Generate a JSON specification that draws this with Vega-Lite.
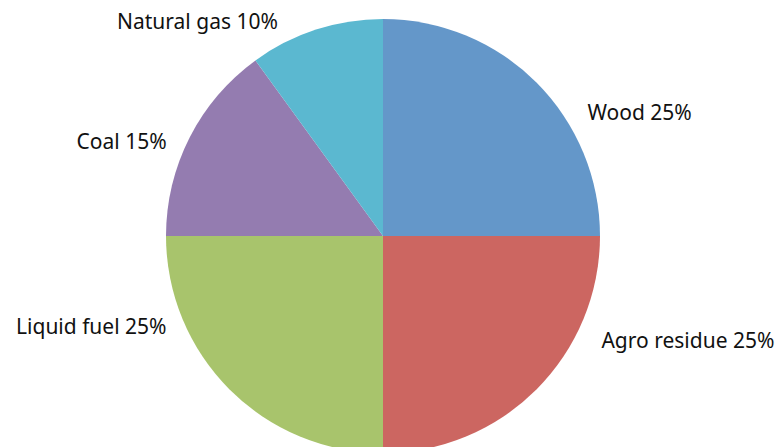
{
  "$schema": "https://vega.github.io/schema/vega-lite/v6.json",
  "width": 766,
  "height": 472,
  "autosize": {"type": "none"},
  "padding": {"left": 0, "top": 0, "right": 13, "bottom": 0},
  "background": "white",
  "config": {"view": {"stroke": null}},
  "data": {
    "values": [
      {"category": "Wood", "value": 25, "order": 1},
      {"category": "Agro residue", "value": 25, "order": 2},
      {"category": "Liquid fuel", "value": 25, "order": 3},
      {"category": "Coal", "value": 15, "order": 4},
      {"category": "Natural gas", "value": 10, "order": 5}
    ]
  },
  "transform": [
    {"calculate": "datum.category + ' ' + datum.value + '%'", "as": "label"}
  ],
  "encoding": {
    "theta": {"field": "value", "type": "quantitative", "stack": true},
    "order": {"field": "order", "type": "quantitative"}
  },
  "layer": [
    {
      "mark": {"type": "arc", "radius": 217},
      "encoding": {
        "color": {
          "field": "category",
          "type": "nominal",
          "scale": {
            "domain": ["Wood", "Agro residue", "Liquid fuel", "Coal", "Natural gas"],
            "range": ["#6497C9", "#CC6661", "#A8C46C", "#947CB0", "#5BB8D0"]
          },
          "legend": null
        }
      }
    },
    {
      "mark": {
        "type": "text",
        "radius": 217,
        "font": "Noto Sans",
        "fontSize": 21,
        "color": "#111111",
        "baseline": "middle",
        "align": {"expr": "datum.order <= 2 ? 'left' : 'right'"},
        "dx": {"expr": "datum.order == 1 ? 51 : datum.order == 2 ? 65 : datum.order == 3 ? -63 : datum.order == 4 ? -23 : -38"},
        "dy": {"expr": "datum.order == 1 ? 31 : datum.order == 2 ? -47 : datum.order == 3 ? -61 : datum.order == 4 ? 6 : -7"}
      },
      "encoding": {
        "text": {"field": "label", "type": "nominal"}
      }
    }
  ]
}
